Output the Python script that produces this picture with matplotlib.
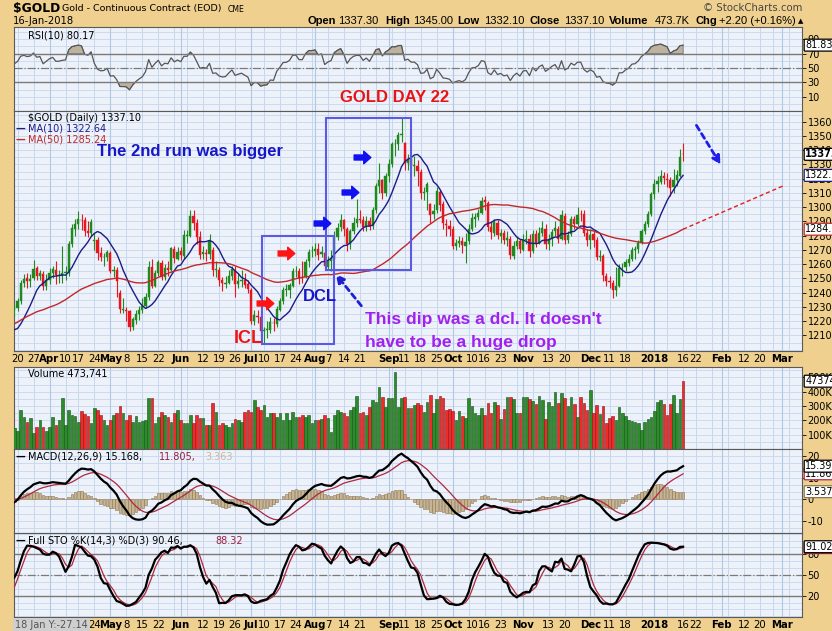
import numpy as np
import pandas as pd
import matplotlib
matplotlib.use("Agg")
import matplotlib.pyplot as plt
import matplotlib.transforms as mtrans
from matplotlib.path import Path
from matplotlib.patches import Rectangle

W, H = 832, 631

# daily (open, high, low, close) for the gold continuous contract, one list per month
jan17 = [(1151.0, 1165.5, 1148.0, 1162.0), (1162.0, 1167.5, 1158.0, 1165.3), (1165.0, 1184.0, 1164.0, 1181.3),
         (1181.0, 1184.5, 1169.0, 1173.4), (1173.0, 1186.5, 1172.0, 1184.9), (1185.0, 1188.0, 1180.0, 1185.5),
         (1185.5, 1199.0, 1181.0, 1196.6), (1196.0, 1207.0, 1194.0, 1200.2), (1200.0, 1201.5, 1191.0, 1196.5),
         (1197.0, 1218.0, 1196.0, 1216.2), (1216.0, 1219.0, 1202.0, 1212.5), (1212.0, 1213.0, 1197.0, 1202.0),
         (1202.0, 1211.0, 1201.0, 1209.3), (1209.0, 1218.5, 1208.0, 1216.1), (1216.0, 1219.0, 1208.0, 1211.5),
         (1211.0, 1212.0, 1196.0, 1198.8), (1198.0, 1201.0, 1187.0, 1189.7), (1189.0, 1193.0, 1180.5, 1191.1),
         (1191.0, 1198.0, 1187.0, 1196.6), (1196.0, 1213.0, 1193.0, 1210.7)]
feb17 = [(1210.0, 1213.0, 1202.0, 1209.0), (1209.0, 1226.0, 1207.0, 1220.2), (1220.0, 1223.0, 1210.0, 1220.0),
         (1220.0, 1236.5, 1218.0, 1233.6), (1233.0, 1238.0, 1228.0, 1236.2), (1236.0, 1244.5, 1233.0, 1241.0),
         (1241.0, 1243.0, 1223.0, 1227.0), (1227.0, 1236.0, 1223.0, 1233.9), (1234.0, 1235.0, 1222.5, 1228.6),
         (1228.0, 1232.0, 1220.0, 1228.9), (1229.0, 1237.0, 1215.0, 1232.4), (1232.0, 1244.0, 1230.0, 1241.4),
         (1241.0, 1243.0, 1233.0, 1238.6), (1238.0, 1242.0, 1226.0, 1234.7), (1235.0, 1240.0, 1230.0, 1238.2),
         (1238.0, 1253.0, 1236.0, 1250.8), (1251.0, 1261.0, 1248.0, 1257.3), (1257.0, 1264.0, 1252.0, 1258.0),
         (1258.0, 1260.0, 1246.0, 1252.6)]
mar17 = [(1252.0, 1255.0, 1242.0, 1249.0), (1249.0, 1251.0, 1231.0, 1233.1), (1233.0, 1240.0, 1224.0, 1234.2),
         (1234.0, 1236.0, 1222.0, 1225.9), (1226.0, 1229.0, 1213.0, 1215.6), (1215.0, 1218.0, 1206.0, 1209.1),
         (1209.0, 1210.0, 1198.0, 1203.6), (1203.0, 1210.0, 1195.0, 1203.0), (1203.0, 1207.0, 1199.0, 1205.7),
         (1205.0, 1207.0, 1196.0, 1198.9), (1199.0, 1222.0, 1197.0, 1220.9), (1221.0, 1233.0, 1218.0, 1228.0),
         (1228.0, 1232.0, 1223.0, 1229.5), (1229.0, 1236.0, 1227.0, 1234.3), (1234.0, 1249.0, 1232.0, 1247.1),
         (1247.0, 1253.0, 1244.0, 1249.8), (1250.0, 1254.0, 1243.0, 1248.1), (1248.0, 1253.0, 1244.0, 1249.6),
         (1250.0, 1263.0, 1249.0, 1256.7), (1257.0, 1259.0, 1249.0, 1252.0), (1252.0, 1256.0, 1249.0, 1253.5),
         (1253.0, 1255.0, 1242.0, 1244.8), (1245.0, 1253.0, 1242.0, 1249.2)]
apr17 = [(1249.0, 1257.0, 1246.0, 1253.9), (1254.0, 1259.0, 1250.0, 1256.6), (1256.0, 1262.0, 1246.0, 1252.3),
         (1252.0, 1256.0, 1247.0, 1252.5), (1252.0, 1273.0, 1247.0, 1253.8), (1254.0, 1259.0, 1249.0, 1254.3),
         (1254.0, 1276.0, 1252.0, 1274.3), (1274.0, 1288.0, 1272.0, 1285.2), (1285.0, 1292.0, 1280.0, 1288.5),
         (1288.0, 1297.4, 1285.0, 1291.4), (1291.0, 1295.0, 1284.0, 1290.7), (1291.0, 1293.0, 1280.0, 1283.1),
         (1283.0, 1290.0, 1279.0, 1282.1), (1282.0, 1292.0, 1280.0, 1289.6), (1276.0, 1282.0, 1270.0, 1276.7),
         (1277.0, 1279.0, 1263.0, 1267.7), (1268.0, 1272.0, 1262.0, 1264.9), (1265.0, 1268.0, 1259.0, 1265.4),
         (1265.0, 1270.0, 1262.0, 1268.3)]
may17 = [(1268.0, 1269.0, 1254.0, 1255.5), (1255.0, 1259.0, 1251.0, 1256.0), (1256.0, 1258.0, 1237.0, 1248.0),
         (1240.0, 1242.0, 1226.0, 1228.3), (1228.0, 1236.0, 1226.0, 1228.1), (1228.0, 1230.0, 1220.0, 1227.1),
         (1227.0, 1228.0, 1213.0, 1216.2), (1216.0, 1223.0, 1214.0, 1221.3), (1221.0, 1228.0, 1218.0, 1225.3),
         (1225.0, 1231.0, 1221.0, 1228.2), (1228.0, 1236.0, 1226.0, 1230.7), (1231.0, 1240.0, 1229.0, 1236.8),
         (1237.0, 1262.0, 1235.0, 1258.3), (1258.0, 1264.0, 1243.0, 1245.0), (1245.0, 1256.0, 1244.0, 1253.6),
         (1254.0, 1263.0, 1252.0, 1261.3), (1261.0, 1263.0, 1249.0, 1251.0), (1251.0, 1260.0, 1249.0, 1257.1),
         (1257.0, 1262.0, 1252.0, 1256.2), (1256.0, 1272.0, 1255.0, 1271.1), (1271.0, 1273.0, 1261.0, 1264.3),
         (1264.0, 1272.0, 1263.0, 1268.9)]
jun17 = [(1269.0, 1272.0, 1263.0, 1266.2), (1266.0, 1284.0, 1264.0, 1280.2), (1280.0, 1284.0, 1275.0, 1280.2),
         (1280.0, 1298.0, 1279.0, 1293.5), (1294.0, 1298.0, 1284.0, 1289.1), (1289.0, 1292.0, 1274.0, 1279.4),
         (1279.0, 1283.0, 1264.0, 1266.8), (1267.0, 1273.0, 1264.0, 1268.3), (1268.0, 1271.0, 1262.0, 1266.9),
         (1267.0, 1281.0, 1264.0, 1276.3), (1270.0, 1272.0, 1252.0, 1255.8), (1256.0, 1262.0, 1251.0, 1256.4),
         (1256.0, 1258.0, 1245.0, 1249.1), (1249.0, 1251.0, 1241.0, 1246.5), (1246.0, 1252.0, 1243.0, 1247.1),
         (1247.0, 1256.0, 1246.0, 1252.0), (1252.0, 1259.0, 1249.0, 1256.7), (1256.0, 1259.0, 1237.0, 1246.2),
         (1246.0, 1254.0, 1243.0, 1247.9), (1248.0, 1256.0, 1244.0, 1249.2), (1249.0, 1254.0, 1243.0, 1245.6),
         (1246.0, 1249.0, 1240.0, 1242.3)]
jul17 = [(1242.0, 1243.0, 1218.0, 1220.1), (1220.0, 1228.0, 1217.0, 1224.1), (1224.0, 1228.0, 1219.0, 1223.1),
         (1223.0, 1227.0, 1207.0, 1212.8), (1213.0, 1216.0, 1205.0, 1213.8), (1214.0, 1220.0, 1208.0, 1214.3),
         (1214.0, 1223.0, 1212.0, 1219.1), (1219.0, 1222.0, 1213.0, 1218.4), (1218.0, 1231.0, 1216.0, 1228.5),
         (1228.0, 1236.0, 1227.0, 1234.1), (1234.0, 1244.0, 1232.0, 1241.6), (1242.0, 1246.0, 1238.0, 1242.0),
         (1242.0, 1247.0, 1236.0, 1245.1), (1245.0, 1257.0, 1244.0, 1254.9), (1255.0, 1259.0, 1251.0, 1255.1),
         (1255.0, 1257.0, 1246.0, 1250.6), (1251.0, 1262.0, 1247.0, 1250.6), (1251.0, 1264.0, 1250.0, 1261.6),
         (1262.0, 1271.0, 1258.0, 1268.8), (1269.0, 1273.0, 1265.0, 1269.1)]
aug17 = [(1269.0, 1275.0, 1266.0, 1270.6), (1271.0, 1275.0, 1263.0, 1266.6), (1267.0, 1273.0, 1265.0, 1268.5),
         (1268.0, 1272.0, 1256.0, 1258.4), (1258.0, 1266.0, 1256.0, 1262.0), (1262.0, 1270.0, 1255.0, 1264.1),
         (1264.0, 1283.0, 1263.0, 1279.4), (1279.0, 1289.0, 1277.0, 1285.6), (1286.0, 1295.0, 1283.0, 1290.7),
         (1291.0, 1292.0, 1280.0, 1284.7), (1285.0, 1286.0, 1269.0, 1273.9), (1274.0, 1285.0, 1271.0, 1283.3),
         (1283.0, 1293.0, 1281.0, 1289.1), (1289.0, 1306.0, 1286.0, 1291.6), (1292.0, 1298.0, 1289.0, 1291.3),
         (1291.0, 1294.0, 1283.0, 1285.9), (1286.0, 1294.0, 1283.0, 1290.3), (1290.0, 1293.0, 1284.0, 1286.6),
         (1287.0, 1300.0, 1285.0, 1297.9), (1298.0, 1317.0, 1296.0, 1315.1), (1315.0, 1331.0, 1310.0, 1318.8),
         (1319.0, 1320.0, 1306.0, 1309.9), (1310.0, 1324.0, 1308.0, 1322.2)]
sep17 = [(1322.0, 1334.0, 1318.0, 1330.0), (1330.0, 1346.0, 1328.0, 1344.5), (1344.0, 1348.0, 1336.0, 1344.3),
         (1344.0, 1353.0, 1340.0, 1350.6), (1351.0, 1362.4, 1346.0, 1351.2), (1345.0, 1346.0, 1326.0, 1331.2),
         (1331.0, 1337.0, 1326.0, 1334.0), (1334.0, 1335.0, 1322.0, 1329.3), (1329.0, 1336.0, 1322.0, 1329.3),
         (1329.0, 1333.0, 1315.0, 1325.6), (1325.0, 1327.0, 1306.0, 1310.0), (1310.0, 1314.0, 1305.0, 1310.6),
         (1311.0, 1318.0, 1298.0, 1316.0), (1302.0, 1303.0, 1289.0, 1294.8), (1295.0, 1302.0, 1292.0, 1297.5),
         (1298.0, 1314.0, 1296.0, 1311.4), (1311.0, 1312.0, 1297.0, 1301.8), (1302.0, 1304.0, 1285.0, 1288.6),
         (1288.0, 1292.0, 1280.0, 1287.4), (1287.0, 1291.0, 1280.0, 1284.8)]
oct17 = [(1285.0, 1287.0, 1271.0, 1273.1), (1273.0, 1278.0, 1270.0, 1275.1), (1275.0, 1280.0, 1272.0, 1276.3),
         (1276.0, 1279.0, 1268.0, 1273.2), (1273.0, 1282.0, 1261.0, 1275.9), (1276.0, 1288.0, 1274.0, 1284.9),
         (1285.0, 1296.0, 1283.0, 1292.5), (1292.0, 1296.0, 1286.0, 1292.9), (1293.0, 1299.0, 1291.0, 1296.0),
         (1296.0, 1307.0, 1295.0, 1304.6), (1305.0, 1308.0, 1298.0, 1303.5), (1303.0, 1304.0, 1283.0, 1286.2),
         (1286.0, 1290.0, 1278.0, 1282.3), (1282.0, 1292.0, 1280.0, 1289.4), (1289.0, 1291.0, 1278.0, 1280.5),
         (1280.0, 1285.0, 1275.0, 1282.0), (1282.0, 1284.0, 1274.0, 1277.2), (1277.0, 1283.0, 1273.0, 1278.3),
         (1278.0, 1280.0, 1264.0, 1266.5), (1266.0, 1276.0, 1264.0, 1272.6), (1273.0, 1280.0, 1271.0, 1276.1),
         (1276.0, 1278.0, 1268.0, 1270.5)]
nov17 = [(1270.0, 1281.0, 1269.0, 1277.3), (1277.0, 1284.0, 1274.0, 1278.0), (1278.0, 1281.0, 1265.0, 1269.1),
         (1269.0, 1284.0, 1268.0, 1280.9), (1281.0, 1284.0, 1272.0, 1275.1), (1275.0, 1286.0, 1274.0, 1282.0),
         (1282.0, 1290.0, 1280.0, 1285.1), (1285.0, 1288.0, 1271.0, 1274.4), (1274.0, 1281.0, 1270.0, 1278.0),
         (1278.0, 1285.0, 1273.0, 1282.6), (1283.0, 1290.0, 1280.0, 1285.4), (1285.0, 1287.0, 1275.0, 1277.7),
         (1278.0, 1298.0, 1277.0, 1294.3), (1294.0, 1296.0, 1274.0, 1277.2), (1277.0, 1283.0, 1275.0, 1280.7),
         (1281.0, 1294.0, 1280.0, 1291.9), (1292.0, 1294.0, 1285.0, 1288.1), (1288.0, 1300.0, 1287.0, 1294.8),
         (1295.0, 1298.0, 1290.0, 1294.9), (1295.0, 1298.0, 1280.0, 1282.1), (1282.0, 1285.0, 1273.0, 1276.7)]
dec17 = [(1277.0, 1285.0, 1271.0, 1280.5), (1281.0, 1283.0, 1272.0, 1277.1), (1277.0, 1279.0, 1263.0, 1265.0),
         (1265.0, 1270.0, 1262.0, 1266.1), (1266.0, 1267.0, 1248.0, 1252.6), (1252.0, 1254.0, 1245.0, 1248.4),
         (1248.0, 1252.0, 1243.0, 1247.2), (1247.0, 1249.0, 1236.5, 1242.0), (1242.0, 1258.0, 1238.0, 1244.9),
         (1245.0, 1260.0, 1244.0, 1257.4), (1257.0, 1261.0, 1252.0, 1257.5), (1258.0, 1264.0, 1255.0, 1261.3),
         (1261.0, 1267.0, 1259.0, 1264.0), (1264.0, 1272.0, 1262.0, 1269.9), (1270.0, 1273.0, 1264.0, 1270.7),
         (1271.0, 1277.0, 1268.0, 1275.0), (1275.0, 1285.0, 1274.0, 1283.1), (1283.0, 1290.0, 1281.0, 1288.1),
         (1288.0, 1297.0, 1286.0, 1295.0), (1295.0, 1311.0, 1294.0, 1309.3)]
jan18 = [(1309.0, 1320.0, 1306.0, 1316.1), (1316.0, 1322.0, 1311.0, 1318.5), (1318.0, 1326.0, 1316.0, 1321.6),
         (1322.0, 1325.0, 1316.0, 1320.4), (1320.0, 1324.0, 1314.0, 1319.3), (1319.0, 1321.0, 1308.0, 1313.7),
         (1314.0, 1327.0, 1310.0, 1319.3), (1319.0, 1326.0, 1315.0, 1322.3), (1322.0, 1341.0, 1321.0, 1334.9),
         (1337.3, 1345.0, 1332.1, 1337.1)]

# volume in thousands, 17 Mar 2017 .. 16 Jan 2018
volumes = [145, 128, 273, 221, 191, 214, 110, 151, 203, 156, 128,
           151, 221, 168, 200, 354, 168, 273, 238, 231, 191, 268, 245, 231, 184, 284, 273, 238, 203, 168,
           203, 238, 250, 301, 254, 203, 238, 191, 231, 191, 196, 203, 354, 354, 180, 221, 261, 240, 226, 191, 249, 273,
           203, 180, 180, 238, 180, 238, 220, 214, 168, 168, 324, 261, 168, 180, 168, 151, 180, 210, 203, 191, 261, 273,
           261, 343, 290, 273, 308, 226, 249, 254, 226, 254, 203, 249, 203, 261, 226, 221, 238, 226, 238, 180,
           203, 203, 207, 238, 215, 121, 238, 273, 261, 254, 231, 273, 296, 371, 254, 261, 238, 296, 343, 331, 431, 360, 296,
           354, 354, 536, 296, 354, 366, 284, 284, 308, 319, 308, 261, 331, 377, 249, 347, 370, 354, 273, 277,
           268, 203, 268, 230, 214, 354, 301, 254, 238, 284, 238, 319, 249, 331, 308, 207, 280, 361, 366, 347, 254, 254,
           366, 361, 347, 338, 315, 370, 343, 207, 331, 300, 401, 324, 389, 354, 301, 361, 315, 226, 361, 324, 273,
           412, 249, 308, 245, 301, 184, 214, 230, 203, 291, 254, 231, 203, 198, 191, 184, 133, 191, 207, 221,
           266, 331, 343, 315, 238, 315, 377, 249, 350, 473.741]

holidays = ["2017-01-16", "2017-02-20", "2017-04-14", "2017-05-29", "2017-07-04", "2017-09-04",
            "2017-11-23", "2017-12-25", "2018-01-01", "2018-01-15", "2018-02-19"]

date_labels = [("2017-03-20", "20"), ("2017-03-27", "27"), ("2017-04-03", "Apr"), ("2017-04-10", "10"),
               ("2017-04-17", "17"), ("2017-04-24", "24"), ("2017-05-01", "May"), ("2017-05-08", "8"),
               ("2017-05-15", "15"), ("2017-05-22", "22"), ("2017-06-01", "Jun"), ("2017-06-12", "12"),
               ("2017-06-19", "19"), ("2017-06-26", "26"), ("2017-07-03", "Jul"), ("2017-07-10", "10"),
               ("2017-07-17", "17"), ("2017-07-24", "24"), ("2017-08-01", "Aug"), ("2017-08-07", "7"),
               ("2017-08-14", "14"), ("2017-08-21", "21"), ("2017-09-01", "Sep"), ("2017-09-11", "11"),
               ("2017-09-18", "18"), ("2017-09-25", "25"), ("2017-10-02", "Oct"), ("2017-10-10", "10"),
               ("2017-10-16", "16"), ("2017-10-23", "23"), ("2017-11-01", "Nov"), ("2017-11-13", "13"),
               ("2017-11-20", "20"), ("2017-12-01", "Dec"), ("2017-12-11", "11"), ("2017-12-18", "18"),
               ("2018-01-02", "2018"), ("2018-01-16", "16"), ("2018-01-22", "22"), ("2018-02-01", "Feb"),
               ("2018-02-12", "12"), ("2018-02-20", "20"), ("2018-03-01", "Mar")]

plt.rcParams["font.family"] = "DejaVu Sans"
plt.rcParams["axes.unicode_minus"] = False
ANN = "Liberation Sans"
BG = "#EFD08F"
PANEL = "#EDF1FA"
GRID = "#C6D8EC"
GREEN, RED = "#1E8A1E", "#E8141E"

# ---- frame of trading days ----
bars = jan17 + feb17 + mar17 + apr17 + may17 + jun17 + jul17 + aug17 + sep17 + oct17 + nov17 + dec17 + jan18
days = pd.bdate_range("2017-01-03", "2018-03-09")
days = days[~days.isin(pd.to_datetime(holidays))]
df = pd.DataFrame(bars, columns=["open", "high", "low", "close"], index=days[:len(bars)])
origin = days.get_loc(pd.Timestamp("2017-03-20"))
x = np.arange(len(df)) - origin
allx = np.arange(len(days)) - origin

c = df["close"]
ma10 = c.rolling(10).mean()
ma50 = c.rolling(50).mean()
d = c.diff()
up = d.clip(lower=0).ewm(alpha=0.1, adjust=False).mean()
dn = (-d.clip(upper=0)).ewm(alpha=0.1, adjust=False).mean()
rsi = 100 - 100 / (1 + up / dn)
macd = c.ewm(span=12, adjust=False).mean() - c.ewm(span=26, adjust=False).mean()
signal = macd.ewm(span=9, adjust=False).mean()
hist = macd - signal
ll = df["low"].rolling(14).min()
hh = df["high"].rolling(14).max()
stok = (100 * (c - ll) / (hh - ll)).rolling(3).mean()
stod = stok.rolling(3).mean()

vis = x >= -1
xv = x[vis]
dv = df[vis]
rising = (dv["close"] >= dv["open"]).values
cols = np.where(rising, GREEN, RED)

week_x, month_x = [], []
for i in range(1, len(days)):
    if days[i].weekday() <= days[i - 1].weekday():
        week_x.append(allx[i])
    if days[i].month != days[i - 1].month:
        month_x.append(allx[i])

fig = plt.figure(figsize=(W / 100, H / 100), dpi=100)
fig.patch.set_facecolor(BG)

XL = (13.5 - 17.5) / 3.2
XR = (802 - 17.5) / 3.2


def panel(top, bottom, ylim, hstep):
    ax = fig.add_axes([13.5 / W, 1 - bottom / H, (802 - 13.5) / W, (bottom - top) / H])
    ax.set_facecolor(PANEL)
    ax.set_xlim(XL, XR)
    ax.set_ylim(*ylim)
    for yy in np.arange(np.ceil(ylim[0] / hstep) * hstep, ylim[1], hstep):
        ax.axhline(yy, color=GRID, lw=0.6, zorder=0)
    for wx in week_x:
        ax.axvline(wx, color=GRID, lw=0.7, zorder=0)
    for mx in month_x:
        ax.axvline(mx, color="#AFC8E4", lw=0.8, zorder=0)
    ax.set_xticks([])
    ax.yaxis.tick_right()
    ax.tick_params(axis="y", direction="out", length=3, pad=1, labelsize=7, width=0.6)
    for s in ax.spines.values():
        s.set_color("#5A5A5A")
        s.set_linewidth(0.8)
    return ax


def tag(ax, y, text, ec, bold=False):
    ax.text(1.004, y, text[:5], transform=mtrans.blended_transform_factory(ax.transAxes, ax.transData),
            ha="left", va="center", fontsize=6.9, fontweight="bold" if bold else "normal",
            bbox=dict(boxstyle="round,pad=0.1", fc="white", ec=ec, lw=0.9), clip_on=False, zorder=10)


# ---- RSI ----
ax_r = panel(27, 111, (-9.9, 107.1), 10)
ax_r.plot(xv, rsi[vis], color="#555555", lw=0.9)
rv = rsi[vis].values
ax_r.fill_between(xv, rv, 70, where=rv > 70, color="#BDB29E", interpolate=True, lw=0.5, edgecolor="#666666")
ax_r.fill_between(xv, rv, 30, where=rv < 30, color="#BDB29E", interpolate=True, lw=0.5, edgecolor="#666666")
ax_r.axhline(70, color="#7A7A7A", lw=1)
ax_r.axhline(30, color="#7A7A7A", lw=1)
ax_r.axhline(50, color="#7A7A7A", lw=0.9, ls="-.")
ax_r.set_yticks([10, 30, 50, 70, 90])
tag(ax_r, rv[-1], f"{rv[-1]:.2f}", "black")
ax_r.text(0.018, 0.9, "RSI(10) 80.17", transform=ax_r.transAxes, fontsize=7, va="center")

# ---- price ----
ax_p = panel(111, 351, (1199.1, 1367.5), 5)
ax_p.vlines(xv, dv["low"], dv["high"], colors=cols, lw=0.8, zorder=3)
body = np.maximum((dv["close"] - dv["open"]).abs(), 0.4)
ax_p.bar(xv, body, bottom=np.minimum(dv["open"], dv["close"]), width=0.65, color=cols, edgecolor=cols,
         lw=0.3, zorder=4)
ax_p.plot(xv, ma10[vis], color="#1C1C86", lw=1.0, zorder=5)
ax_p.plot(xv, ma50[vis], color="#C0282A", lw=1.0, zorder=5)
ax_p.set_yticks(np.arange(1210, 1361, 10))
tag(ax_p, ma50.iloc[-1], f"{ma50.iloc[-1]:.2f}", "#C0282A")
tag(ax_p, ma10.iloc[-1], f"{ma10.iloc[-1]:.2f}", "#1C1C86")
tag(ax_p, c.iloc[-1], f"{c.iloc[-1]:.2f}", "black", bold=True)
ax_p.text(0.018, 0.972, "$GOLD (Daily) 1337.10", transform=ax_p.transAxes, fontsize=7, va="center")
ax_p.text(0.003, 0.926, "\u2014", transform=ax_p.transAxes, fontsize=7, va="center", color="#1C1C86",
          fontweight="bold")
ax_p.text(0.018, 0.926, "MA(10) 1322.64", transform=ax_p.transAxes, fontsize=7, va="center", color="#1C1C86")
ax_p.text(0.003, 0.882, "\u2014", transform=ax_p.transAxes, fontsize=7, va="center", color="#C0282A",
          fontweight="bold")
ax_p.text(0.018, 0.882, "MA(50) 1285.24", transform=ax_p.transAxes, fontsize=7, va="center", color="#C0282A")

# annotations drawn on the chart
box_c = "#5A5AE6"
ax_p.add_patch(Rectangle((76.4, 1204.0), 22.5, 75.8, fill=False, ec=box_c, lw=1.5, zorder=6))
ax_p.add_patch(Rectangle((96.4, 1255.9), 26.6, 106.7, fill=False, ec=box_c, lw=1.5, zorder=6))
arrow = Path([(-1, -0.3), (0.15, -0.3), (0.15, -0.75), (1, 0), (0.15, 0.75), (0.15, 0.3), (-1, 0.3), (-1, -0.3)],
             [Path.MOVETO] + [Path.LINETO] * 6 + [Path.CLOSEPOLY])
ax_p.plot([77.2, 83.75], [1233.1, 1268.2], ls="none", marker=arrow, ms=12, color="#FF1414", zorder=7)
ax_p.plot([95.1, 103.9, 107.8], [1289.1, 1310.5, 1335.4], ls="none", marker=arrow, ms=12, color="#1010F0",
          zorder=7)
ax_p.text(24.8, 1339.4, "The 2nd run was bigger", family=ANN, fontsize=12, fontweight="bold", color="#1616C8",
          va="center", zorder=7)
ax_p.text(72.0, 1208.1, "ICL", family=ANN, fontsize=13, fontweight="bold", color="#F01414", ha="center",
          va="center", zorder=7)
ax_p.text(94.5, 1237.0, "DCL", family=ANN, fontsize=12, fontweight="bold", color="#1616C8", ha="center",
          va="center", zorder=7)
ax_p.text(108.6, 1220.9, "This dip was a dcl. It doesn't", family=ANN, fontsize=12.6, fontweight="bold",
          color="#A020F0", va="center", zorder=7)
ax_p.text(108.6, 1205.4, "have to be a huge drop", family=ANN, fontsize=12.6, fontweight="bold",
          color="#A020F0", va="center", zorder=7)
ax_p.annotate("", xy=(98.9, 1254.6), xytext=(108.0, 1229.3),
              arrowprops=dict(arrowstyle="-|>", color="#1E1ED2", lw=2, ls=(0, (2, 1.5)), mutation_scale=12),
              zorder=7)
ax_p.annotate("", xy=(220.2, 1328.2), xytext=(211.7, 1359.1),
              arrowprops=dict(arrowstyle="-|>", color="#1E1EE6", lw=2, ls=(0, (2, 1.5)), mutation_scale=12),
              zorder=7)
ax_p.plot([x[-1], 239.2], [ma50.iloc[-1], 1314.9], color="#E02020", ls=(0, (3, 2)), lw=1, zorder=6)
fig.text(395 / W, 1 - 98 / H, "GOLD DAY 22", family=ANN, fontsize=12, fontweight="bold", color="#E81414",
         ha="center", va="center", zorder=20)

# ---- volume ----
ax_v = panel(367, 449, (0, 573), 50)
vcols = np.where(rising, "#2C8C2C", "#F02A2A")
vedge = np.where(rising, "#145214", "#8C1414")
ax_v.bar(xv, volumes, width=0.85, color=vcols, edgecolor=vedge, lw=0.4, zorder=3)
ax_v.set_yticks([100, 200, 300, 400, 500])
ax_v.set_yticklabels(["100K", "200K", "300K", "400K", "500K"])
tag(ax_v, volumes[-1], "473741", "black")
ax_v.text(0.018, 0.91, "Volume 473,741", transform=ax_v.transAxes, fontsize=7, va="center")

# ---- MACD ----
ax_m = panel(449, 533, (-15.7, 23.4), 10 / 3)
hv = hist[vis].values
ax_m.bar(xv, hv, width=0.85, color="#C8B48E", edgecolor="#8A7654", lw=0.4, zorder=3)
ax_m.plot(xv, signal[vis], color="#B02840", lw=0.9, zorder=4)
ax_m.plot(xv, macd[vis], color="black", lw=1.6, zorder=5)
ax_m.set_yticks([-10, 0, 10, 20])
tag(ax_m, hv[-1], f"{hv[-1]:.3f}", "#8A7654")
tag(ax_m, signal.iloc[-1], f"{signal.iloc[-1]:.2f}", "#B02840")
tag(ax_m, macd.iloc[-1], f"{macd.iloc[-1]:.2f}", "black")
ax_m.text(0.003, 0.905, "\u2014", transform=ax_m.transAxes, fontsize=7, va="center", fontweight="bold")
ax_m.text(0.018, 0.905, "MACD(12,26,9) 15.168,", transform=ax_m.transAxes, fontsize=7, va="center")
ax_m.text(0.185, 0.905, "11.805,", transform=ax_m.transAxes, fontsize=7, va="center", color="#9A2040")
ax_m.text(0.243, 0.905, "3.363", transform=ax_m.transAxes, fontsize=7, va="center", color="#C8B8A0")

# ---- full stochastics ----
ax_s = panel(533, 617, (-10.9, 110.9), 10)
ax_s.plot(xv, stod[vis], color="#B02840", lw=0.9, zorder=4)
ax_s.plot(xv, stok[vis], color="black", lw=1.6, zorder=5)
ax_s.axhline(80, color="#7A7A7A", lw=1)
ax_s.axhline(20, color="#7A7A7A", lw=1)
ax_s.axhline(50, color="#7A7A7A", lw=0.9, ls="-.")
ax_s.set_yticks([20, 50, 80])
tag(ax_s, stod.iloc[-1], f"{stod.iloc[-1]:.2f}", "#B02840")
tag(ax_s, stok.iloc[-1], f"{stok.iloc[-1]:.2f}", "black")
ax_s.text(0.003, 0.905, "\u2014", transform=ax_s.transAxes, fontsize=7, va="center", fontweight="bold")
ax_s.text(0.018, 0.905, "Full STO %K(14,3) %D(3) 90.46,", transform=ax_s.transAxes, fontsize=7, va="center")
ax_s.text(0.256, 0.905, "88.32", transform=ax_s.transAxes, fontsize=7, va="center", color="#9A2040")

# ---- date labels under price and at the bottom ----
for ax_, ypx, skip_px in ((ax_p, 359, 0), (ax_s, 624.5, 92)):
    tr = mtrans.blended_transform_factory(ax_.transData, fig.transFigure)
    for ds, lab in date_labels:
        xi = days.get_loc(pd.Timestamp(ds)) - origin
        if 17.5 + 3.2 * xi < skip_px:
            continue  # hidden under the cursor read-out box
        bold = not lab.isdigit() or lab == "2018"
        ax_.text(xi, 1 - ypx / H, lab, transform=tr, ha="center", va="center", fontsize=7.3,
                 fontweight="bold" if bold else "normal", clip_on=False)
fig.text(15 / W, 1 - 625.5 / H, "18 Jan Y:-27.14", fontsize=7, color="#555555", va="center", ha="left",
         bbox=dict(boxstyle="square,pad=0.25", fc="#CFCFCF", ec="none"), zorder=30)

# ---- header ----
fig.text(13 / W, 1 - 8.5 / H, "$GOLD", fontsize=8.8, fontweight="bold", va="center")
fig.text(62 / W, 1 - 8.5 / H, "Gold - Continuous Contract (EOD)", fontsize=6.8, va="center")
fig.text(228 / W, 1 - 9 / H, "CME", fontsize=5.6, va="center")
fig.text(13 / W, 1 - 21.5 / H, "16-Jan-2018", fontsize=7.2, va="center")
fig.text(802 / W, 1 - 8 / H, "\u00a9 StockCharts.com", fontsize=7.3, va="center", ha="right", color="#444444")
header = [("Open", 308, True), ("1337.30", 338, False), ("High", 385, True), ("1345.00", 413, False),
          ("Low", 457, True), ("1332.10", 484, False), ("Close", 529, True), ("1337.10", 564, False),
          ("Volume", 609, True), ("473.7K", 655, False), ("Chg", 695, True), ("+2.20 (+0.16%)", 719, False)]
for txt, px, bold in header:
    fig.text(px / W, 1 - 21.5 / H, txt, family=ANN, fontsize=8, fontweight="bold" if bold else "normal",
             va="center")
fig.text(798 / W, 1 - 21 / H, "\u25b2", fontsize=5, va="center")

fig.savefig("out.png", dpi=100, facecolor=BG)
